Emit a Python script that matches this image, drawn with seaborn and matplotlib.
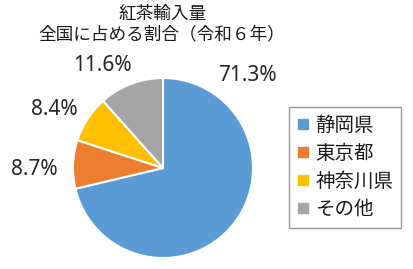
import matplotlib
matplotlib.use("Agg")
import matplotlib.pyplot as plt
import seaborn as sns
from matplotlib.lines import Line2D

categories = ["静岡県", "東京都", "神奈川県", "その他"]
values = [71.3, 8.7, 8.4, 11.6]
value_labels = ["71.3%", "8.7%", "8.4%", "11.6%"]
colors = ["#5B9BD5", "#ED7D31", "#FFC000", "#A5A5A5"]
title = "紅茶輸入量\n全国に占める割合（令和６年）"

sns.set_theme(style="white")
plt.rcParams['font.family'] = ['Noto Sans CJK JP', 'DejaVu Sans']

fig = plt.figure(figsize=(4.14, 2.69), dpi=100)
ax = fig.add_axes([73/414, 11/269, 180/414, 180/269])
wedges, _ = ax.pie(values, colors=colors, startangle=90, counterclock=False,
                   wedgeprops=dict(edgecolor="white", linewidth=1.5), radius=1.0)
ax.set_xlim(-1, 1)
ax.set_ylim(-1, 1)
ax.set_aspect("equal")
ax.axis("off")

label_pos = [(0.94, 1.03), (-1.43, -0.02), (-1.21, 0.65), (-0.67, 1.14)]
for (x, y), t in zip(label_pos, value_labels):
    ax.text(x, y, t, ha="center", va="center", fontsize=15, color="#262626",
            clip_on=False, family=['Noto Sans', 'DejaVu Sans'])

fig.text(162/414, 1 - 24/269, title, ha="center", va="center", fontsize=12.7,
         color="#1a1a1a", linespacing=1.2)

handles = [Line2D([0], [0], marker="s", linestyle="none", markersize=6.5,
                  markerfacecolor=c, markeredgecolor=c) for c in colors]
leg = fig.legend(handles, categories, loc="upper left",
                 bbox_to_anchor=(289/414, 1 - 107/269), frameon=True,
                 fancybox=False, fontsize=14, handlelength=0.6,
                 handletextpad=0.35, labelspacing=0.36, borderpad=0.4,
                 borderaxespad=0)
leg.get_frame().set_edgecolor("#7f7f7f")
leg.get_frame().set_linewidth(1.0)
for t in leg.get_texts():
    t.set_color("#1a1a1a")

fig.canvas.draw()
# widen the legend frame slightly toward the right like the reference
bb = leg.get_window_extent()
fig.savefig("out.png", dpi=100)
